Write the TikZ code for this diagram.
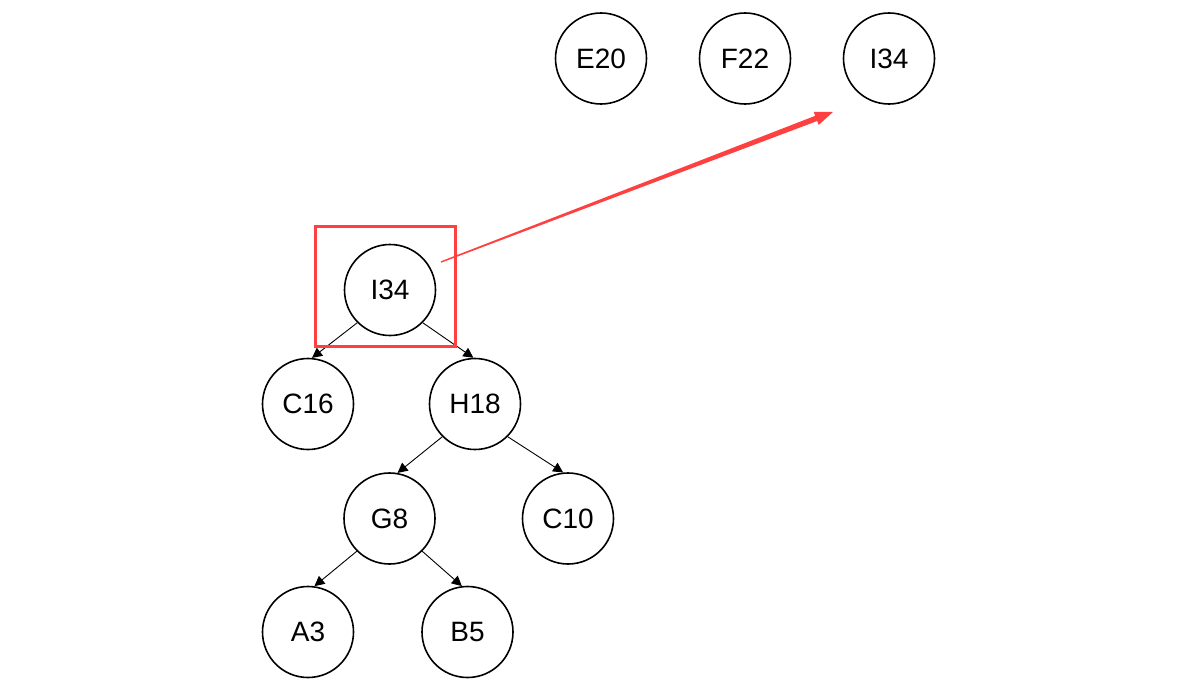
\documentclass[tikz,border=0pt]{standalone}
\usepackage{fontspec}
\setmainfont{Liberation Sans}
\usetikzlibrary{arrows.meta}
\definecolor{hlred}{RGB}{255,64,64}
\begin{document}
\begin{tikzpicture}[x=1pt,y=-1pt,
  tnode/.style={circle,draw=black,line width=1.6pt,minimum size=91pt,inner sep=0pt,font=\fontsize{28}{30}\selectfont},
  tedge/.style={draw=black,line width=0.9pt,-{Triangle[length=10pt,width=10pt]}}]
\useasboundingbox (0,0) rectangle (1177,688);
\node[tnode] (e20) at (601,58.5) {E20};
\node[tnode] (f22) at (745,58.5) {F22};
\node[tnode] (i34t) at (889,58.5) {I34};
\node[tnode] (i34) at (390,290) {I34};
\node[tnode] (c16) at (308,404) {C16};
\node[tnode] (h18) at (475,404) {H18};
\node[tnode] (g8) at (389.5,518.5) {G8};
\node[tnode] (c10) at (568,518.5) {C10};
\node[tnode] (a3) at (308,632) {A3};
\node[tnode] (b5) at (467.5,632) {B5};
\draw[tedge] (i34.south west) -- (c16.85);
\draw[tedge] (i34.south east) -- (h18.92);
\draw[tedge] (h18.south west) -- (g8.80);
\draw[tedge] (h18.south east) -- (c10.96);
\draw[tedge] (g8.south west) -- (a3.82);
\draw[tedge] (g8.south east) -- (b5.97);
\draw[hlred,line width=2.8pt] (315.5,226.5) rectangle (455.5,346.5);
\fill[hlred] (441.25,262.65) -- (817.2,121.0) -- (818.7,124.9) -- (833,112) -- (813.7,111.9) -- (815.2,115.8) -- (440.75,261.35) -- cycle;
\end{tikzpicture}
\end{document}
